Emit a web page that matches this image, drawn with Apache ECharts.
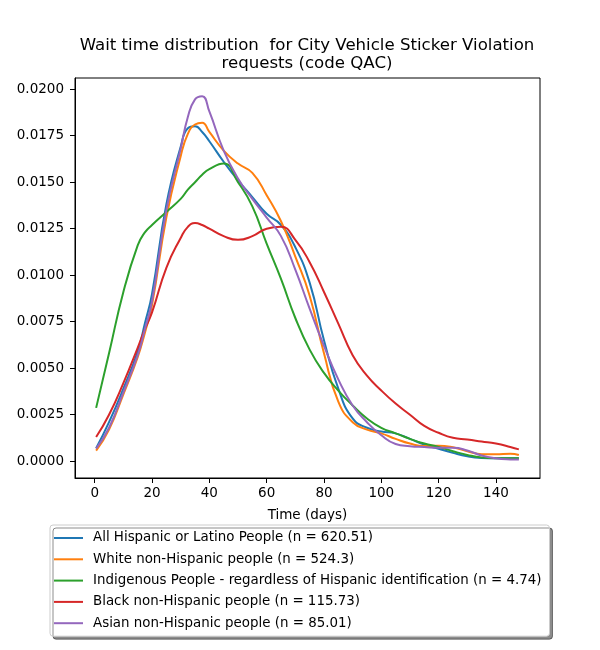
<!DOCTYPE html>
<html>
<head>
<meta charset="utf-8">
<script src="https://cdn.jsdelivr.net/npm/echarts/dist/echarts.min.js"></script>
<style>
  html, body { margin: 0; padding: 0; background: #fff; }
  #chart { width: 600px; height: 650px; }
</style>
</head>
<body>
<div id="chart"></div>
<script>
'use strict';

// days sampled along the x axis
const days = [0.5, 5, 10, 15, 17.5, 20, 25, 30, 32.5, 35, 37.5, 40, 45, 50, 55, 60, 65, 70, 75, 80, 85, 90, 95, 100, 105, 110, 115, 120, 125, 130, 135, 140, 145, 148];

const hispanic = [0.0007, 0.0021, 0.0039, 0.0059, 0.0074, 0.0090, 0.0138, 0.0169, 0.0179, 0.0180, 0.0177, 0.0172, 0.0161, 0.0151, 0.0142, 0.0133, 0.0127, 0.0115, 0.0096, 0.0065, 0.0039, 0.0023, 0.0018, 0.0016, 0.0015, 0.0012, 0.0009, 0.00067, 0.00045, 0.00027, 0.00018, 0.00016, 0.00016, 0.00016];
const white = [0.00057, 0.0017, 0.0036, 0.0056, 0.0069, 0.0084, 0.0131, 0.0164, 0.0176, 0.0181, 0.0182, 0.0177, 0.0167, 0.0160, 0.0155, 0.0143, 0.0129, 0.0110, 0.0089, 0.0058, 0.0032, 0.0021, 0.0017, 0.0015, 0.0012, 0.00095, 0.00082, 0.00084, 0.00075, 0.00054, 0.00038, 0.00038, 0.00041, 0.00034];
const indigenous = [0.00287, 0.0058, 0.0091, 0.0116, 0.0123, 0.0127, 0.0134, 0.0141, 0.0146, 0.0150, 0.0154, 0.0157, 0.0160, 0.0150, 0.0137, 0.0117, 0.0098, 0.0077, 0.0060, 0.00475, 0.0038, 0.0030, 0.0023, 0.0018, 0.0015, 0.0012, 0.00095, 0.00077, 0.00054, 0.00034, 0.0002, 0.00016, 0.00016, 0.00016];
const black = [0.0013, 0.0025, 0.0042, 0.0061, 0.0071, 0.0080, 0.0104, 0.0120, 0.0126, 0.0128, 0.0127, 0.0125, 0.0121, 0.0119, 0.0121, 0.0125, 0.0126, 0.0119, 0.0107, 0.0091, 0.0074, 0.0057, 0.0046, 0.0038, 0.0031, 0.0025, 0.0019, 0.00153, 0.00126, 0.00117, 0.00106, 0.00095, 0.00077, 0.00064];
const asian = [0.00068, 0.0018, 0.0037, 0.0057, 0.0071, 0.0086, 0.0135, 0.0168, 0.0185, 0.01945, 0.01962, 0.0188, 0.0167, 0.0152, 0.0141, 0.0131, 0.0121, 0.0103, 0.0082, 0.0062, 0.0044, 0.0030, 0.0021, 0.0014, 0.00093, 0.00081, 0.00076, 0.00072, 0.00072, 0.00058, 0.00031, 0.00016, 0.0001, 0.00009];

const seriesNames = [
    'All Hispanic or Latino People (n = 620.51)',
    'White non-Hispanic people (n = 524.3)',
    'Indigenous People - regardless of Hispanic identification (n = 4.74)',
    'Black non-Hispanic people (n = 115.73)',
    'Asian non-Hispanic people (n = 85.01)'
];
const seriesValues = [hispanic, white, indigenous, black, asian];
const colors = ['#1f77b4', '#ff7f0e', '#2ca02c', '#d62728', '#9467bd'];

const xTicks = [0, 20, 40, 60, 80, 100, 120, 140];
const yTicks = [0, 0.0025, 0.005, 0.0075, 0.01, 0.0125, 0.015, 0.0175, 0.02];

const font = 'DejaVu Sans';

const chart = echarts.init(document.getElementById('chart'));
chart.setOption({
    animation: false,
    color: colors,
    title: {
        text: 'Wait time distribution  for City Vehicle Sticker Violation\nrequests (code QAC)',
        left: 307,
        top: 37,
        padding: 0,
        textAlign: 'center',
        textStyle: {
            fontFamily: font,
            fontSize: 16.6,
            fontWeight: 'normal',
            color: '#000',
            lineHeight: 18
        }
    },
    grid: {
        left: 75,
        right: 60,
        top: 78,
        bottom: 172,
        show: true,
        borderColor: '#000',
        borderWidth: 1,
        containLabel: false
    },
    legend: {
        orient: 'vertical',
        left: 50,
        top: 525,
        padding: [5, 8, 5, 4],
        itemGap: 5.3,
        itemWidth: 29,
        itemHeight: 2,
        icon: 'rect',
        backgroundColor: '#fff',
        borderColor: '#cccccc',
        borderWidth: 1,
        borderRadius: 3,
        shadowColor: 'rgba(0,0,0,0.45)',
        shadowOffsetX: 3,
        shadowOffsetY: 3,
        shadowBlur: 0,
        textStyle: {
            fontFamily: font,
            fontSize: 13.4,
            color: '#000',
            lineHeight: 16,
            padding: [0, 0, 0, 5]
        },
        data: seriesNames
    },
    xAxis: {
        type: 'value',
        min: -6.875,
        max: 155.375,
        name: 'Time (days)',
        nameLocation: 'middle',
        nameGap: 30,
        nameTextStyle: { fontFamily: font, fontSize: 13.5, color: '#000' },
        axisLine: { show: true, onZero: false, lineStyle: { color: '#000', width: 1 } },
        axisTick: { show: true, length: 5, customValues: xTicks, lineStyle: { color: '#000' } },
        axisLabel: {
            customValues: xTicks,
            fontFamily: font,
            fontSize: 13.5,
            color: '#000',
            margin: 8
        },
        splitLine: { show: false }
    },
    yAxis: {
        type: 'value',
        min: -0.0009,
        max: 0.0206,
        axisLine: { show: true, onZero: false, lineStyle: { color: '#000', width: 1 } },
        axisTick: { show: true, length: 5, customValues: yTicks, lineStyle: { color: '#000' } },
        axisLabel: {
            customValues: yTicks,
            fontFamily: font,
            fontSize: 13.5,
            color: '#000',
            margin: 11,
            formatter: (v) => v.toFixed(4)
        },
        splitLine: { show: false }
    },
    series: seriesNames.map((name, i) => ({
        name: name,
        type: 'line',
        data: days.map((d, j) => [d, seriesValues[i][j]]),
        smooth: 0.5,
        symbol: 'none',
        showSymbol: false,
        lineStyle: { width: 2, color: colors[i] },
        itemStyle: { color: colors[i] }
    }))
});
</script>
</body>
</html>
